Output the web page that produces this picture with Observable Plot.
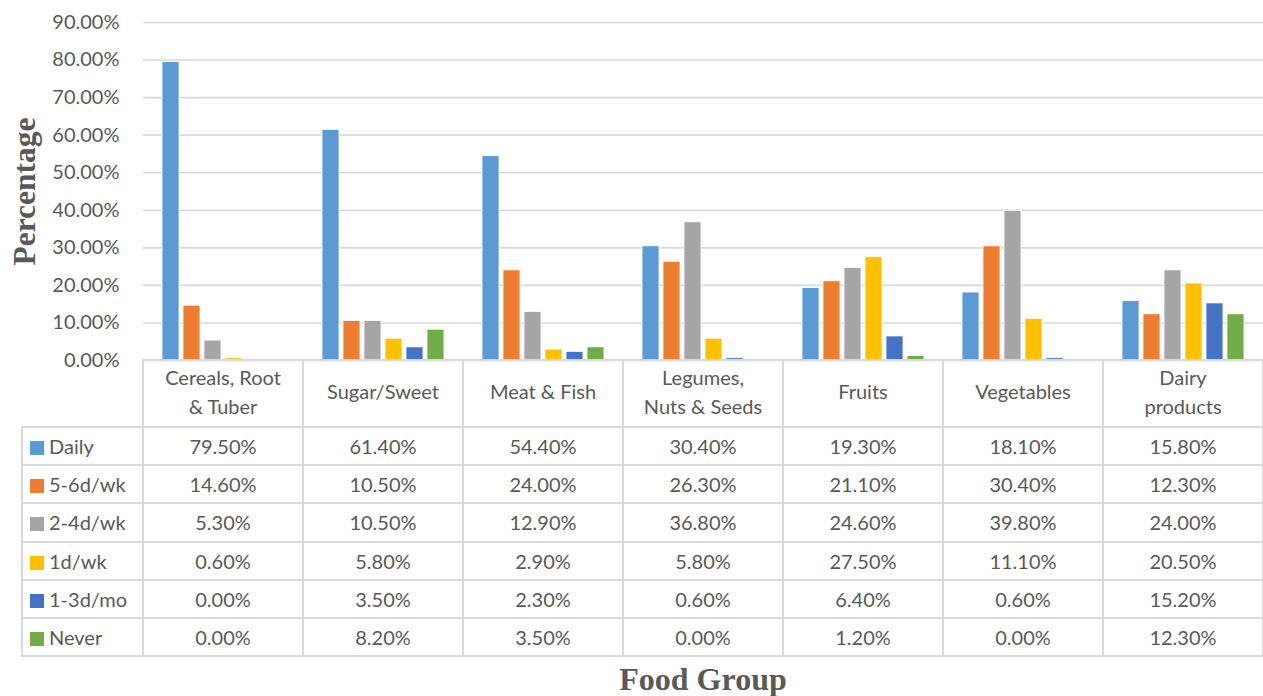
<!DOCTYPE html>
<html>
<head>
<meta charset="utf-8">
<script src="https://cdn.jsdelivr.net/npm/d3@7"></script>
<script src="https://cdn.jsdelivr.net/npm/@observablehq/plot@0.6"></script>
<style>
  html, body { margin: 0; padding: 0; background: #fff; }
  #wrap { position: relative; width: 1263px; height: 696px; overflow: hidden; font-family: Lato, "Open Sans", sans-serif; color: #595959; }
  #wrap svg { position: absolute; left: 0; top: 0; }
  table.data { position: absolute; border-collapse: collapse; table-layout: fixed; font-family: Lato, sans-serif; font-size: 20px; color: #595959; }
  table.data td { border: 2px solid #d9d9d9; padding: 0; text-align: center; white-space: nowrap; }
  table.data tr.head td { height: 61px; padding-bottom: 4px; line-height: 29px; }
  table.data tr.row td { height: 36.2px; }
  table.data td.corner { border-top: none; border-left: none; }
  table.data td.series { text-align: left; padding-left: 7px; }
  .swatch { display: inline-block; width: 14px; height: 14px; margin-right: 5px; vertical-align: -1px; }
  .xtitle { position: absolute; text-align: center; font-family: "Liberation Serif", "Times New Roman", serif; font-weight: bold; font-size: 32px; color: #595959; line-height: 30px; }
</style>
</head>
<body>
<div id="wrap"></div>
<script>
// Food groups (columns of the chart and of the data table)
const foodGroups = ["Cereals, Root & Tuber", "Sugar/Sweet", "Meat & Fish", "Legumes, Nuts & Seeds", "Fruits", "Vegetables", "Dairy products"];
// Header text of each group, with its line break
const groupLabels = [["Cereals, Root", "& Tuber"], ["Sugar/Sweet"], ["Meat & Fish"], ["Legumes,", "Nuts & Seeds"], ["Fruits"], ["Vegetables"], ["Dairy", "products"]];
// Consumption frequencies (series)
const frequencies = ["Daily", "5-6d/wk", "2-4d/wk", "1d/wk", "1-3d/mo", "Never"];
const seriesColors = ["#5B9BD5", "#ED7D31", "#A5A5A5", "#FFC000", "#4472C4", "#70AD47"];

// Percentages per frequency, in food-group order
const daily     = [79.5, 61.4, 54.4, 30.4, 19.3, 18.1, 15.8];
const fiveSix   = [14.6, 10.5, 24.0, 26.3, 21.1, 30.4, 12.3];
const twoFour   = [5.3, 10.5, 12.9, 36.8, 24.6, 39.8, 24.0];
const oncePerWk = [0.6, 5.8, 2.9, 5.8, 27.5, 11.1, 20.5];
const monthly   = [0.0, 3.5, 2.3, 0.6, 6.4, 0.6, 15.2];
const never     = [0.0, 8.2, 3.5, 0.0, 1.2, 0.0, 12.3];
const seriesValues = [daily, fiveSix, twoFour, oncePerWk, monthly, never];

const yTicks = [0, 10, 20, 30, 40, 50, 60, 70, 80, 90];
const pct = v => v.toFixed(2) + "%";

// Long-format table for the marks
const rows = [];
frequencies.forEach((f, i) => foodGroups.forEach((g, j) => rows.push({group: g, freq: f, value: seriesValues[i][j]})));

const chartW = 1263, plotLeft = 143, plotTop = 22, plotBottom = 360, padBottom = 24;

const chart = Plot.plot({
  width: chartW,
  height: plotBottom + padBottom,
  marginLeft: plotLeft,
  marginRight: 0,
  marginTop: plotTop,
  marginBottom: padBottom,
  style: {fontFamily: "Lato, sans-serif", fontSize: "20px", color: "#595959", background: "transparent"},
  fx: {domain: foodGroups, axis: null, padding: 0},
  x: {domain: frequencies, axis: null, paddingInner: 0.21, paddingOuter: 0.83},
  y: {domain: [0, 90], axis: null},
  color: {domain: frequencies, range: seriesColors},
  marks: [
    Plot.ruleY(yTicks, {stroke: "#d9d9d9", strokeWidth: 1.6}),
    Plot.barY(rows, {fx: "group", x: "freq", y: "value", fill: "freq", stroke: "white", strokeWidth: 0.8}),
    Plot.axisY(yTicks, {tickSize: 0, tickPadding: 24, tickFormat: pct, fill: "#595959", label: null}),
    Plot.text(["Percentage"], {frameAnchor: "left", textAnchor: "middle", rotate: -90, dx: -119, fontFamily: "Liberation Serif, Times New Roman, serif", fontWeight: "bold", fontSize: 31.5, fill: "#595959", facetAnchor: "left"})
  ]
});

const wrap = document.getElementById("wrap");
wrap.appendChild(chart);

// Data table underneath, with columns taken from the facet scale
const fx = chart.scale("fx");
const bw = fx.bandwidth;
const color = chart.scale("color");
const legendW = 121;

const table = document.createElement("table");
table.className = "data";
table.style.left = (plotLeft - legendW - 1) + "px";
table.style.top = (plotBottom - 1) + "px";
table.style.width = (legendW + bw * foodGroups.length) + "px";

const colgroup = document.createElement("colgroup");
[legendW, ...foodGroups.map(() => bw)].forEach(w => {
  const c = document.createElement("col");
  c.style.width = w + "px";
  colgroup.appendChild(c);
});
table.appendChild(colgroup);

const head = document.createElement("tr");
head.className = "head";
const corner = document.createElement("td");
corner.className = "corner";
head.appendChild(corner);
groupLabels.forEach(lines => {
  const td = document.createElement("td");
  td.innerHTML = lines.map(s => s.replace(/&/g, "&amp;")).join("<br>");
  head.appendChild(td);
});
table.appendChild(head);

frequencies.forEach((f, i) => {
  const tr = document.createElement("tr");
  tr.className = "row";
  const th = document.createElement("td");
  th.className = "series";
  const sw = document.createElement("span");
  sw.className = "swatch";
  sw.style.background = color.apply(f);
  th.appendChild(sw);
  th.appendChild(document.createTextNode(f));
  tr.appendChild(th);
  seriesValues[i].forEach(v => {
    const td = document.createElement("td");
    td.textContent = pct(v);
    tr.appendChild(td);
  });
  table.appendChild(tr);
});
wrap.appendChild(table);

// Axis title for the food groups
const xt = document.createElement("div");
xt.className = "xtitle";
xt.style.left = plotLeft + "px";
xt.style.width = (chartW - plotLeft) + "px";
xt.style.top = "664px";
xt.textContent = "Food Group";
wrap.appendChild(xt);
</script>
</body>
</html>
